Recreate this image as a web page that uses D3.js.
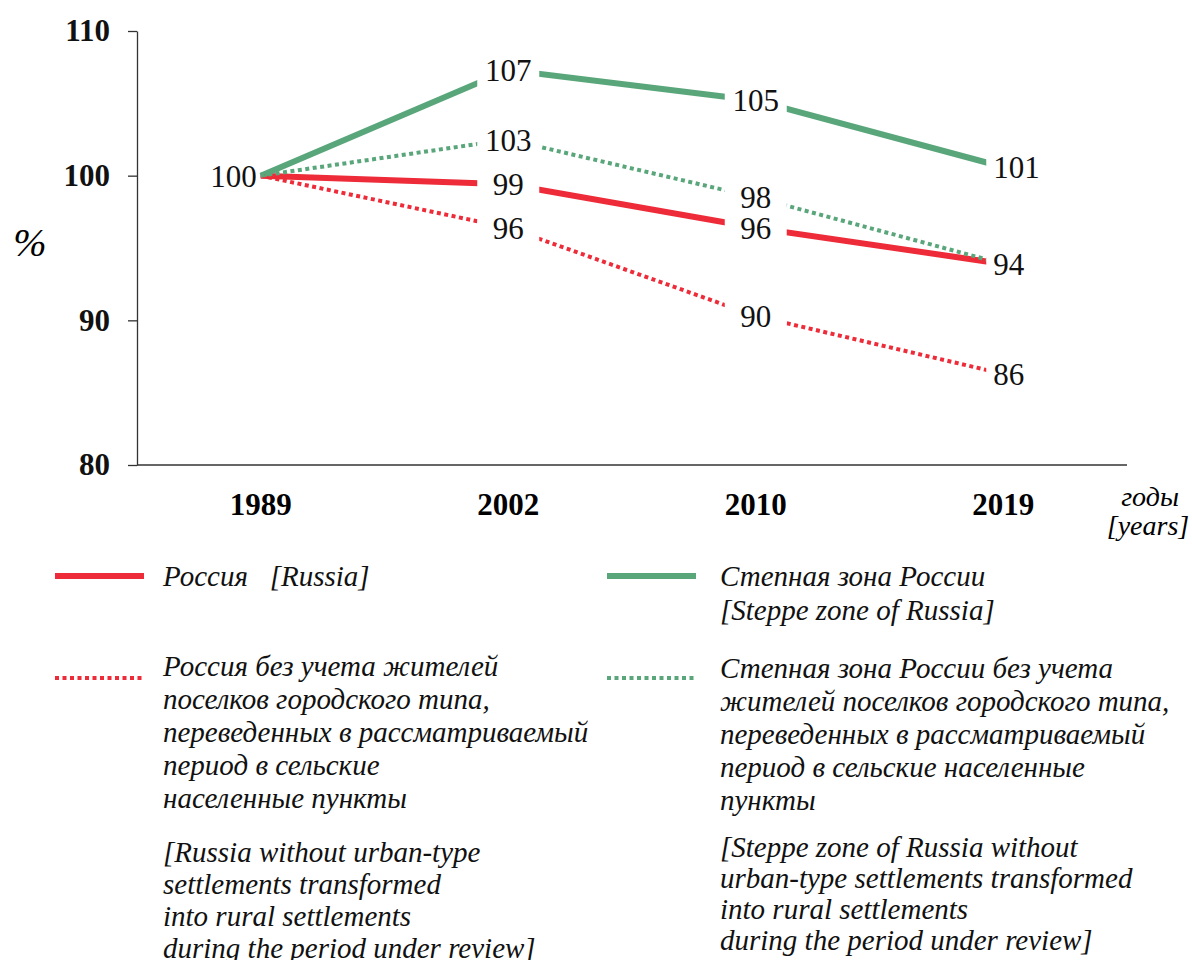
<!DOCTYPE html>
<meta charset="utf-8">
<script src="https://d3js.org/d3.v7.min.js"></script>
<style>
  body { margin: 0; background: #fff; }
</style>
<body>
<div id="viz"></div>
<script>
// data
const years = ["1989", "2002", "2010", "2019"];
const russia = [100, 99.4, 96.4, 93.9];
const steppe = [100, 107.3, 105.2, 100.6];
const russiaNoUTS = [100, 96.4, 90.3, 86.3];
const steppeNoUTS = [100, 102.5, 98.5, 93.9];

const russiaLabels = [null, "99", "96", "94"];
const steppeLabels = ["100", "107", "105", "101"];
const russiaNoUTSLabels = [null, "96", "90", "86"];
const steppeNoUTSLabels = [null, "103", "98", null];

const yTicks = [80, 90, 100, 110];

const red = "#ee2b38", green = "#5aa67b";
const FONT = '"Liberation Serif", "Times New Roman", serif';

const width = 1192, height = 960;
const svg = d3.select("#viz").append("svg")
  .attr("width", width).attr("height", height)
  .style("font-family", FONT);

const x = d3.scalePoint().domain(years).range([137, 1127]).padding(0.5);
const y = d3.scaleLinear().domain([80, 110]).range([465, 31]);

// y axis
const yAxis = svg.append("g")
  .attr("transform", "translate(137,0)")
  .call(d3.axisLeft(y).tickValues(yTicks).tickSize(9).tickSizeOuter(0).tickPadding(18));
yAxis.attr("font-family", null);
yAxis.selectAll("line, path").attr("stroke", "#333").attr("stroke-width", 1.3);
yAxis.selectAll("text")
  .attr("fill", "#111")
  .style("font-family", FONT)
  .style("font-size", "31px").style("font-weight", "bold");

// x axis line only
svg.append("line")
  .attr("x1", 137).attr("x2", 1127)
  .attr("y1", y(80)).attr("y2", y(80))
  .attr("stroke", "#333").attr("stroke-width", 1.3);

svg.selectAll(".xlab")
  .data(years)
  .join("text")
  .attr("class", "xlab")
  .attr("x", d => x(d))
  .attr("y", 515)
  .attr("text-anchor", "middle")
  .style("font-family", FONT)
  .style("font-size", "31px").style("font-weight", "bold")
  .text(d => d);

svg.append("text")
  .attr("x", 30).attr("y", 256)
  .attr("text-anchor", "middle")
  .style("font-family", FONT)
  .style("font-size", "40px").style("font-style", "italic")
  .text("%");

svg.append("text").attr("x", 1150).attr("y", 506)
  .attr("text-anchor", "middle")
  .style("font-family", FONT)
  .style("font-size", "28px").style("font-style", "italic")
  .text("годы");
svg.append("text").attr("x", 1148).attr("y", 535)
  .attr("text-anchor", "middle")
  .style("font-family", FONT)
  .style("font-size", "28px").style("font-style", "italic")
  .text("[years]");

const series = [
  { values: russia, labels: russiaLabels, color: red, dash: null, w: 6 },
  { values: steppe, labels: steppeLabels, color: green, dash: null, w: 6 },
  { values: russiaNoUTS, labels: russiaNoUTSLabels, color: red, dash: "4,3.5", w: 4 },
  { values: steppeNoUTS, labels: steppeNoUTSLabels, color: green, dash: "4,3.5", w: 4 }
];

const line = d3.line()
  .x((d, i) => x(years[i]))
  .y(d => y(d));

svg.append("g").selectAll("path")
  .data(series)
  .join("path")
  .attr("d", d => line(d.values))
  .attr("fill", "none")
  .attr("stroke", d => d.color)
  .attr("stroke-width", d => d.w)
  .attr("stroke-dasharray", d => d.dash);

// data labels with white boxes
const labs = [];
series.forEach(s => s.labels.forEach((t, i) => {
  if (t !== null) labs.push({ t: t, i: i, v: s.values[i] });
}));

const lg = svg.append("g");
labs.forEach(d => {
  const px = x(years[d.i]), py = y(d.v);
  let tx = px, anchor = "middle", bx = px - 31;
  if (d.i === 0) { tx = px - 4; anchor = "end"; bx = null; }
  if (d.i === years.length - 1) { tx = px - 10; anchor = "start"; bx = px - 17; }
  if (bx !== null) {
    lg.append("rect")
      .attr("x", bx).attr("y", py - 15)
      .attr("width", 62).attr("height", 32)
      .attr("fill", "#fff");
  }
  lg.append("text")
    .attr("x", tx).attr("y", py + 11)
    .attr("text-anchor", anchor)
    .attr("fill", "#111")
    .style("font-family", FONT)
    .style("font-size", "31px")
    .text(d.t);
});

// legend
const legendItems = [
  { x: 55, y: 576, color: red, dash: null, w: 6, lines: ["Россия   [Russia]"], ty: 586, gap: 34 },
  { x: 607, y: 576, color: green, dash: null, w: 6, lines: ["Степная зона России", "[Steppe zone of Russia]"], ty: 586, gap: 34 },
  { x: 55, y: 678, color: red, dash: "4,3.5", w: 4,
    lines: ["Россия без учета жителей", "поселков городского типа,", "переведенных в рассматриваемый", "период в сельские", "населенные пункты"], ty: 676, gap: 33 },
  { x: 607, y: 678, color: green, dash: "4,3.5", w: 4,
    lines: ["Степная зона России без учета", "жителей поселков городского типа,", "переведенных в рассматриваемый", "период в сельские населенные", "пункты"], ty: 678, gap: 33 }
];

const legendNotes = [
  { x: 163, lines: ["[Russia without urban-type", "settlements transformed", "into rural settlements", "during the period under review]"], ty: 862, gap: 32 },
  { x: 720, lines: ["[Steppe zone of Russia without", "urban-type settlements transformed", "into rural settlements", "during the period under review]"], ty: 857, gap: 31 }
];

const leg = svg.append("g");
legendItems.forEach(d => {
  leg.append("line")
    .attr("x1", d.x).attr("x2", d.x + 89)
    .attr("y1", d.y).attr("y2", d.y)
    .attr("stroke", d.color).attr("stroke-width", d.w)
    .attr("stroke-dasharray", d.dash);
  const tx = d.x === 55 ? 163 : 720;
  d.lines.forEach((t, k) => {
    leg.append("text")
      .attr("x", tx).attr("y", d.ty + k * d.gap)
      .attr("fill", "#111")
      .style("font-family", FONT)
      .style("font-size", "29px").style("font-style", "italic")
      .style("white-space", "pre")
      .text(t);
  });
});
legendNotes.forEach(d => {
  d.lines.forEach((t, k) => {
    leg.append("text")
      .attr("x", d.x).attr("y", d.ty + k * d.gap)
      .attr("fill", "#111")
      .style("font-family", FONT)
      .style("font-size", "29px").style("font-style", "italic")
      .text(t);
  });
});
</script>
</body>
